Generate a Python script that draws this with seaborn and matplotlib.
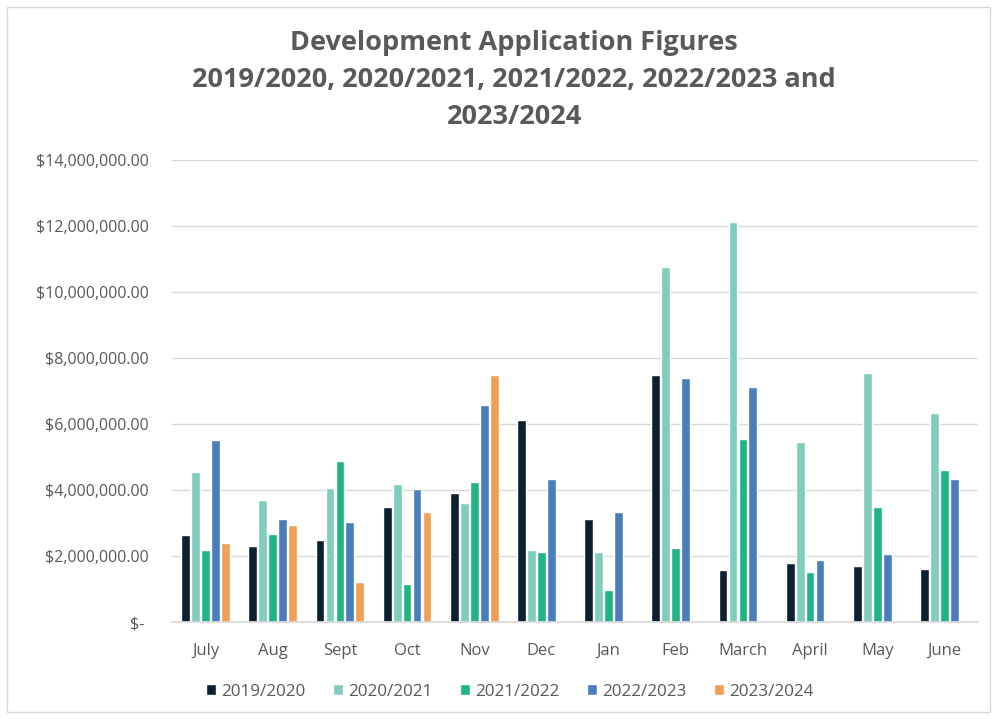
import numpy as np
import pandas as pd
import matplotlib
matplotlib.use("Agg")
import matplotlib.pyplot as plt
import seaborn as sns
from matplotlib.ticker import FuncFormatter

months = ["July", "Aug", "Sept", "Oct", "Nov", "Dec", "Jan", "Feb", "March", "April", "May", "June"]
years = ["2019/2020", "2020/2021", "2021/2022", "2022/2023", "2023/2024"]

fy_2019_20 = [2.63, 2.31, 2.50, 3.48, 3.92, 6.13, 3.12, 7.47, 1.57, 1.79, 1.70, 1.62]
fy_2020_21 = [4.56, 3.70, 4.07, 4.18, 3.60, 2.18, 2.13, 10.77, 12.13, 5.45, 7.55, 6.33]
fy_2021_22 = [2.18, 2.66, 4.88, 1.15, 4.24, 2.13, 0.96, 2.25, 5.54, 1.52, 3.47, 4.61]
fy_2022_23 = [5.52, 3.13, 3.04, 4.02, 6.59, 4.33, 3.33, 7.40, 7.12, 1.88, 2.05, 4.33]
fy_2023_24 = [2.38, 2.94, 1.20, 3.34, 7.50, np.nan, np.nan, np.nan, np.nan, np.nan, np.nan, np.nan]

colors = ["#0d1f33", "#7fcdbb", "#20b487", "#4a7ebb", "#f0a055"]

series = [fy_2019_20, fy_2020_21, fy_2021_22, fy_2022_23, fy_2023_24]
rows = []
for yr, vals in zip(years, series):
    for m, v in zip(months, vals):
        rows.append({"Month": m, "Year": yr, "Value": v * 1_000_000})
df = pd.DataFrame(rows)

sns.set_theme(style="white")
plt.rcParams["font.family"] = ["Open Sans", "DejaVu Sans"]

fig = plt.figure(figsize=(9.93, 7.19), dpi=100)
ax = fig.add_axes([172 / 993, 1 - 622 / 719, (978 - 172) / 993, (622 - 160) / 719])

sns.barplot(data=df, x="Month", y="Value", hue="Year", order=months, hue_order=years,
            palette=colors, width=0.74, gap=0.12, saturation=1, ax=ax, errorbar=None)

ax.set_ylim(0, 14_000_000)
ax.set_yticks(np.arange(0, 14_000_001, 2_000_000))
ax.yaxis.set_major_formatter(FuncFormatter(lambda v, p: "$- " if v == 0 else f"${v:,.2f}"))
ax.grid(axis="y", color="#d9d9d9", linewidth=1)
ax.set_axisbelow(True)
for s in ["top", "right", "left"]:
    ax.spines[s].set_visible(False)
ax.spines["bottom"].set_color("#d9d9d9")
ax.set_xlabel("")
ax.set_ylabel("")
ax.tick_params(axis="y", length=0, pad=17, labelsize=11.5, labelcolor="#595959")
ax.tick_params(axis="x", length=0, pad=15, labelsize=12, labelcolor="#595959")

ax.legend(loc="upper center", bbox_to_anchor=(0.5 - 65 / 806, -0.1), ncol=5, frameon=False,
          fontsize=12.3, labelcolor="#595959", handlelength=0.6, handleheight=0.6,
          handletextpad=0.3, columnspacing=1.6)

fig.text(0.518, 1 - 80 / 719,
         "Development Application Figures\n2019/2020, 2020/2021, 2021/2022, 2022/2023 and\n2023/2024",
         ha="center", va="center", fontsize=19.5, fontweight="bold", color="#595959", linespacing=1.55)

fig.patches.append(plt.Rectangle((7 / 993, 7 / 719), 983 / 993, 705 / 719, transform=fig.transFigure,
                                 fill=False, edgecolor="#d9d9d9", linewidth=1))

fig.savefig("out.png", dpi=100)
